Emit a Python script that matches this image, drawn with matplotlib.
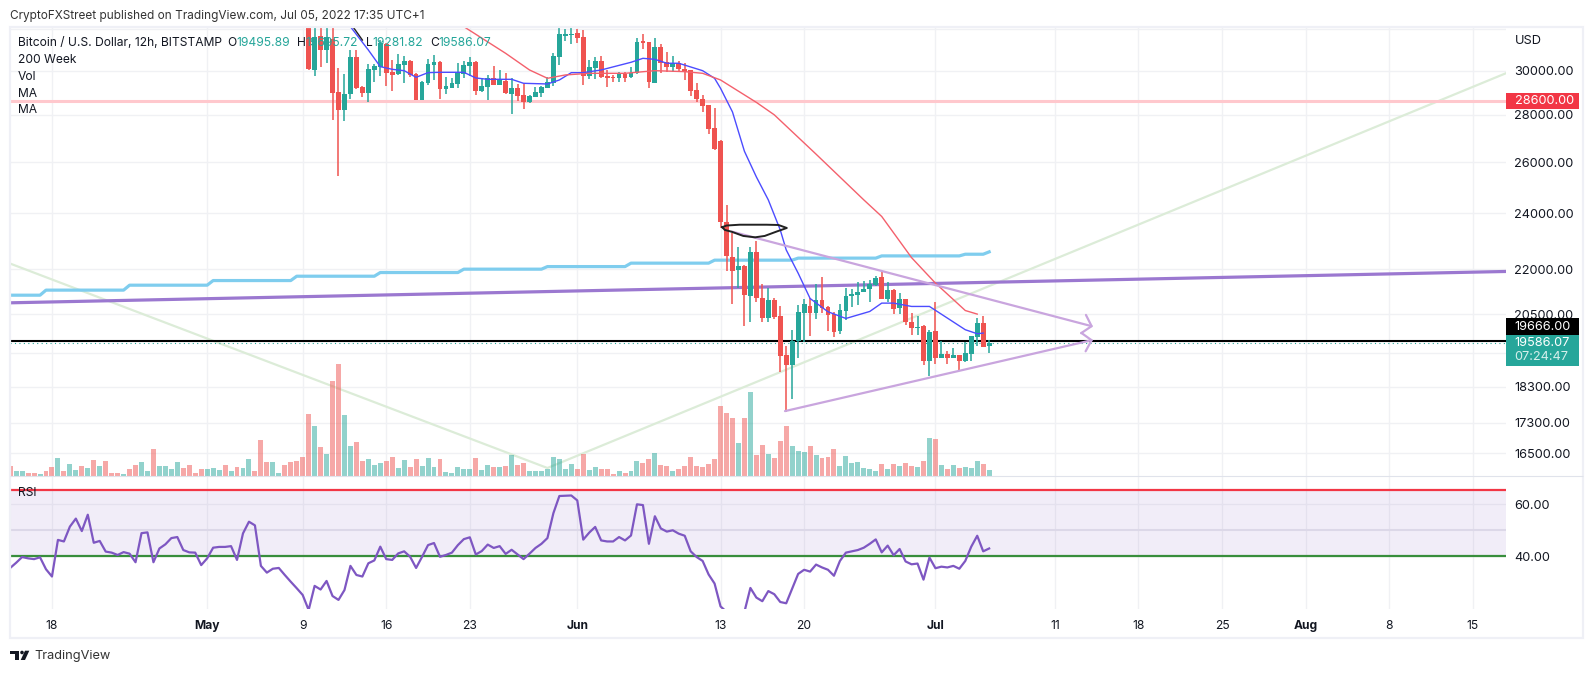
import matplotlib
matplotlib.use('Agg')
import matplotlib.pyplot as plt
from matplotlib.patches import Rectangle, Polygon, Circle

W, H = 1594, 673
plt.rcParams['font.family'] = ['Inter', 'DejaVu Sans']

UP = '#26a69a'
DOWN = '#ef5350'
GRID = '#f0f1f4'
TEXT = '#131722'
FS = 8.7
FS_SCALE = 9.2

# candles start at bar 50, earlier bars are above the visible range
first_candle = 50
opens = [32500, 30033, 31672, 30985, 31510, 29018, 28214, 28928, 30665, 29261,
         28988, 30033, 30190, 31280, 29955, 29846, 30270, 30460, 29846, 28658,
         29444, 30270, 30412, 29155, 29200, 29383, 29846, 30222, 30412, 29064,
         29245, 29660, 29337, 29536, 28928, 29200, 28883, 28568, 28793, 28973,
         29200, 29429, 30665, 31672, 31705, 31803, 31608, 29753, 30128, 30460,
         29753, 29722, 29660, 29846, 29691, 29877, 31430, 31380, 29444, 31130,
         30412, 30175, 30350, 30080, 30033, 29110, 28703, 28436, 27430, 26880,
         23681, 22425, 21974, 22112, 21100, 22612, 21035, 20388, 20969, 20452,
         19243, 18945, 19668, 20548, 20775, 20548, 20969, 20742, 20516, 19975,
         20612, 21100, 21133, 21233, 21332, 21466, 21734, 21000, 21300, 20710,
         21000, 20260, 20070, 20134, 19063, 19975, 19153, 19273, 19153, 19243,
         19063, 19273, 19790, 20228, 19495.89]
highs = [32700, 32400, 32300, 32300, 32100, 30112, 29846, 30985, 30985, 29300,
         30317, 30317, 31473, 31345, 30505, 30793, 30697, 30505, 29908, 29521,
         30537, 30745, 30460, 29722, 29645, 30350, 30475, 30633, 30444, 29645,
         29800, 30222, 30033, 29908, 29645, 29383, 29383, 28883, 29230, 29291,
         29691, 30857, 32136, 32000, 32136, 32000, 31950, 30505, 30665, 30697,
         30033, 29800, 29955, 29930, 30190, 31575, 31770, 31400, 31575, 31300,
         30890, 30697, 30475, 30350, 30050, 29414, 28883, 28450, 28300, 26900,
         24321, 23269, 22790, 22147, 22790, 23004, 21500, 21343, 21035, 20775,
         19495, 20010, 20810, 21000, 21023, 21500, 21734, 20775, 20580, 20839,
         21366, 21332, 21568, 21600, 21634, 21768, 21905, 21544, 21332, 21200,
         21000, 20548, 20430, 20166, 20010, 20904, 19668, 19364, 19455, 19243,
         19635, 19823, 20388, 20452, 19695.72]
lows = [30033, 29753, 30190, 30350, 27777, 25436, 27734, 28703, 29140, 28778,
        28583, 29475, 29753, 29291, 29064, 29784, 29444, 29691, 28640, 28640,
        29337, 29567, 28703, 28928, 29185, 29185, 29645, 29753, 28883, 29033,
        28658, 29337, 29337, 28928, 28039, 28628, 28258, 28540, 28778, 28778,
        29185, 29306, 30270, 31440, 31270, 31345, 29337, 29614, 29614, 29675,
        29261, 29475, 29475, 29475, 29645, 29860, 31020, 29200, 29414, 29877,
        29925, 29940, 30000, 29567, 28838, 28568, 28126, 27175, 26500, 23452,
        21940, 20839, 21355, 20113, 20260, 20882, 20239, 20240, 20345, 18737,
        17604, 17965, 19153, 19635, 19823, 20345, 20537, 19975, 19770, 19885,
        20324, 20742, 20806, 21233, 20904, 21410, 21000, 20904, 20516, 20516,
        20166, 19855, 19855, 18945, 18622, 18974, 19153, 18974, 19153, 18797,
        19033, 19063, 19515, 19485, 19281.82]
closes = [30064, 31640, 30985, 31640, 28988, 28214, 28928, 30665, 29185, 28988,
          30080, 30222, 31345, 29908, 29800, 30317, 30460, 29800, 28658, 29475,
          30317, 30412, 29155, 29291, 29414, 29908, 30270, 30412, 29064, 29291,
          29645, 29337, 29567, 28973, 29200, 28838, 28568, 28838, 29018, 29230,
          29475, 30697, 31770, 31770, 31770, 31575, 29753, 30175, 30460, 29706,
          29675, 29675, 29877, 29660, 29877, 31380, 31345, 29475, 31130, 30380,
          30175, 30350, 30080, 29955, 29064, 28703, 28390, 27390, 26545, 23697,
          22437, 21940, 22112, 21133, 22578, 21035, 20388, 20969, 20420, 19213,
          18945, 19668, 20580, 20839, 20548, 20969, 20710, 20484, 19945, 20645,
          21100, 21166, 21233, 21332, 21500, 21700, 21000, 21300, 20678, 21000,
          20260, 20070, 20100, 19063, 19945, 19153, 19273, 19153, 19243, 19063,
          19303, 19823, 20228, 19485, 19586.07]

# volume of every bar, first 50 bars need their own direction
volume = [30, 15, 15, 9, 9, 6, 15, 27, 54, 15, 36, 18, 30, 24, 48, 30, 45, 9, 9, 6,
          21, 33, 42, 15, 81, 30, 30, 21, 42, 24, 33, 9, 21, 21, 24, 18, 33, 15, 27, 24,
          51, 15, 108, 42, 42, 9, 33, 42, 45, 57, 186, 150, 87, 66, 285, 336, 183, 90, 102, 45,
          51, 33, 39, 45, 57, 24, 48, 27, 51, 30, 54, 27, 51, 12, 9, 27, 21, 21, 54, 18,
          33, 27, 27, 30, 63, 33, 39, 15, 15, 15, 21, 57, 51, 21, 36, 21, 66, 18, 27, 21,
          21, 6, 15, 9, 15, 45, 39, 51, 69, 33, 30, 15, 21, 30, 57, 30, 27, 36, 51, 210,
          189, 174, 99, 174, 252, 63, 93, 66, 54, 105, 150, 90, 75, 72, 90, 63, 54, 57, 81, 30,
          60, 39, 42, 24, 21, 15, 36, 21, 36, 30, 39, 30, 27, 45, 114, 111, 33, 21, 33, 24,
          27, 24, 45, 36, 18]
volume_up_early = [0, 1, 1, 0, 0, 1, 0, 0, 1, 0, 1, 1, 0, 1, 0, 1, 0, 0, 0, 1, 0, 0, 1, 1, 0,
                   1, 1, 1, 1, 0, 0, 0, 0, 1, 1, 1, 0, 1, 0, 1, 1, 0, 0, 0, 1, 1, 0, 0, 0, 0]

rsi = [35.4, 37.4, 39.6, 39.1, 38.8, 39.5, 34.9, 32.1, 46.2, 45.6, 51.3, 54.4, 49.6, 55.9, 45.1,
       45.8, 41.7, 41.3, 40.4, 41.5, 40.9, 37.6, 48.8, 49.1, 37.6, 42.9, 44.5, 46.9, 47.3, 42.3,
       41.4, 41.3, 36.5, 39.1, 43.2, 43.5, 43.5, 43.8, 38.5, 48.7, 53.2, 51.8, 36.2, 33.6, 35.1,
       35.4, 32.7, 30.1, 27.6, 25.0, 19.2, 28.5, 27.1, 30.4, 24.6, 23.1, 26.9, 36.2, 32.7, 32.1,
       37.2, 38.3, 43.6, 38.8, 38.5, 41.0, 41.8, 39.7, 35.4, 39.7, 44.2, 45.0, 39.7, 40.4, 41.3,
       44.2, 46.5, 47.2, 40.6, 41.9, 44.4, 43.1, 43.8, 40.8, 42.4, 40.6, 38.8, 40.9, 43.1, 44.7,
       46.9, 56.5, 63.1, 63.2, 63.3, 61.4, 46.3, 49.0, 51.2, 46.0, 45.6, 45.6, 47.3, 46.0, 47.9,
       59.9, 59.6, 44.7, 55.3, 50.6, 49.4, 49.9, 48.6, 47.8, 41.8, 39.6, 38.1, 32.9, 29.4, 20.6,
       18.5, 15.3, 15.3, 18.5, 27.7, 24.0, 22.6, 26.5, 25.3, 22.3, 21.8, 27.4, 33.1, 34.7, 34.0,
       36.7, 35.6, 34.7, 32.4, 38.1, 41.3, 41.8, 42.3, 43.2, 44.7, 46.4, 41.4, 44.0, 40.3, 42.7,
       37.9, 36.8, 37.1, 30.9, 39.4, 35.3, 35.9, 35.6, 36.2, 35.1, 38.1, 43.6, 47.8, 41.8, 42.9]

# moving averages, vertices read at bar positions
ma_blue_x = [57, 60, 62, 64, 66, 68, 70, 72, 76, 78, 80, 84, 86, 90, 92, 94, 96, 99, 104, 106,
             108, 110, 112, 116, 118, 119, 121, 123, 125, 127, 129, 130, 132, 134, 137, 140,
             144, 146, 148, 151, 154, 160, 162, 163]
ma_blue_y = [32136, 30985, 30190, 30064, 30000, 29691, 29908, 29924, 29924, 29660, 29598, 29598,
             29414, 29383, 29567, 29908, 29908, 30033, 30396, 30585, 30537, 30350, 30350, 30000,
             29645, 29185, 28125, 26450, 25410, 24513, 23390, 22670, 21860, 21012, 20580, 20366,
             20590, 20860, 20860, 20752, 20752, 20010, 19885, 19905]
ma_red_x = [76, 83, 87, 90, 93, 97, 103, 108, 113, 116, 119, 125, 128, 135, 143, 146, 151, 155, 160, 162]
ma_red_y = [32136, 30825, 30033, 29645, 29800, 29877, 29877, 30000, 29955, 29877, 29567, 28550,
            28000, 26330, 24513, 23886, 22397, 21522, 20620, 20505]
ma_black_x = [57.5, 59]
ma_black_y = [32100, 31473]

# 200 week line
week200_x = [0, 5, 6, 19, 20, 33, 34, 47, 48, 61, 62, 75, 76, 89, 90, 103, 104, 117, 118,
             131, 132, 145, 146, 159, 160, 163, 164]
week200_y = [21120, 21120, 21288, 21288, 21453, 21453, 21609, 21609, 21756, 21756, 21882, 21882,
             21997, 21997, 22086, 22086, 22205, 22205, 22309, 22309, 22380, 22380, 22458, 22458,
             22517, 22517, 22600]

# drawn lines
green_x = [0, 90, 251]
green_y = [22190, 16120, 29930]
purple_x = [0, 251]
purple_y = [20870, 21920]
upper_x = [120.9, 181.4]
upper_y = [23327, 20110]
lower_x = [129.8, 181.4]
lower_y = [17620, 19695]
scribble_x = [119.3, 120, 122.2, 126.7, 128.7, 130.1, 128.4, 126.4, 124.8, 122.8, 120.9, 119.7, 119.3]
scribble_y = [23490, 23550, 23580, 23580, 23570, 23460, 23330, 23170, 23120, 23170, 23320, 23390, 23490]

level_pink = 28600
level_black = 19666
last_close = 19586.07

price_ticks = [32000, 30000, 28000, 26000, 24000, 22000, 20500, 19300, 18300, 17300, 16500]
price_labels = ['', '30000.00', '28000.00', '26000.00', '24000.00', '22000.00', '20500.00', '',
                '18300.00', '17300.00', '16500.00']
time_ticks = [7, 33, 49, 63, 77, 95, 119, 133, 155, 175, 189, 203, 217, 231, 245]
time_labels = ['18', 'May', '9', '16', '23', 'Jun', '13', '20', 'Jul', '11', '18', '25', 'Aug', '8', '15']
rsi_top, rsi_mid, rsi_low = 65.4, 50, 40


def axes_px(left, top, right, bottom):
    return [left / W, 1 - bottom / H, (right - left) / W, (bottom - top) / H]


def label(x, y, s, **kw):
    kw.setdefault('color', TEXT)
    kw.setdefault('fontsize', FS)
    kw.setdefault('va', 'center')
    fig.text(x / W, 1 - y / H, s, zorder=20, **kw)


def box(x, y, w, h, **kw):
    fig.add_artist(Rectangle((x / W, 1 - (y + h) / H), w / W, h / H, transform=fig.transFigure,
                             zorder=15, **kw))


fig = plt.figure(figsize=(W / 100, H / 100), dpi=100)
xlim = (-0.03, 250.58)

# price pane
ax = fig.add_axes(axes_px(10, 27, 1506, 476))
ax.set_zorder(1)
ax.set_yscale('log')
ax.set_xlim(*xlim)
ax.set_ylim(15920, 32120)
ax.minorticks_off()
ax.set_yticks(price_ticks)
ax.set_yticklabels(price_labels, fontsize=FS_SCALE, color=TEXT)
ax.yaxis.tick_right()
ax.set_xticks(time_ticks)
ax.set_xticklabels([])
ax.tick_params(length=0, pad=6)
ax.tick_params(axis='y', which='minor', length=0, labelright=False)
ax.grid(True, color=GRID, lw=1)
ax.set_axisbelow(True)
for s in ax.spines.values():
    s.set_visible(False)

ax.plot(green_x, green_y, color='#dcecd8', lw=1.6, zorder=2)
ax.plot(week200_x, week200_y, color='#7fcdee', lw=2.3, zorder=2.5, solid_joinstyle='round')
ax.plot(purple_x, purple_y, color='#9b78d0', lw=2.3, zorder=2.6)
ax.axhline(level_pink, color='#ffc8cd', lw=2.2, zorder=2.7)
ax.axhline(last_close, color=UP, lw=0.8, ls=(0, (1, 3)), zorder=2.75)
ax.axhline(level_black, color='black', lw=1.5, zorder=2.8)

# candles
for n, (o, h, l, c) in enumerate(zip(opens, highs, lows, closes)):
    i = first_candle + n
    col = UP if c >= o else DOWN
    ax.vlines(i, l, h, color=col, lw=1.1, zorder=3)
    ax.bar(i, abs(c - o), bottom=min(o, c), width=0.8, color=col, zorder=3.1)

ax.plot(ma_blue_x, ma_blue_y, color='#4c4cff', lw=1.0, zorder=4)
ax.plot(ma_red_x, ma_red_y, color='#f4606c', lw=1.0, zorder=4)
ax.plot(ma_black_x, ma_black_y, color='#222222', lw=1.0, zorder=4)
ax.plot(scribble_x, scribble_y, color='#222222', lw=1.4, zorder=5)

tri_col = '#c9a5de'
for xs, ys in [(upper_x, upper_y), (lower_x, lower_y)]:
    ax.annotate('', xy=(xs[1], ys[1]), xytext=(xs[0], ys[0]), zorder=4.5,
                arrowprops=dict(arrowstyle='->,head_length=0.6,head_width=0.68', color=tri_col,
                                lw=1.6, mutation_scale=10, shrinkA=0, shrinkB=0))

# volume sits in the same pane
axv = fig.add_axes(axes_px(10, 27, 1506, 476), sharex=ax)
axv.set_zorder(2)
axv.patch.set_visible(False)
axv.set_ylim(0, 1347)
axv.axis('off')
vol_colors = []
for i, v in enumerate(volume):
    if i < first_candle:
        up = volume_up_early[i]
    else:
        up = closes[i - first_candle] >= opens[i - first_candle]
    vol_colors.append(UP if up else DOWN)
axv.bar(range(len(volume)), volume, width=0.83, color=vol_colors, alpha=0.5)
axv.set_xlim(*xlim)

# rsi pane
ar = fig.add_axes(axes_px(10, 476, 1506, 609))
ar.set_xlim(*xlim)
ar.set_ylim(19.6, 70.8)
ar.set_xticks(time_ticks)
ar.set_xticklabels(time_labels, fontsize=FS, color=TEXT)
for t, s in zip(ar.get_xticklabels(), time_labels):
    if s in ('May', 'Jun', 'Jul', 'Aug'):
        t.set_fontweight('bold')
ar.set_yticks([60, 40])
ar.set_yticklabels(['60.00', '40.00'], fontsize=FS_SCALE, color=TEXT)
ar.yaxis.tick_right()
ar.tick_params(length=0)
ar.tick_params(axis='x', pad=8)
ar.tick_params(axis='y', pad=6)
ar.grid(True, color=GRID, lw=1)
ar.set_axisbelow(True)
for s in ar.spines.values():
    s.set_visible(False)
ar.axhspan(rsi_low, rsi_top, color='#7e57c2', alpha=0.1, lw=0, zorder=1)
ar.axhline(rsi_mid, color='#dcd8e8', lw=1.5, zorder=1.5)
ar.axhline(rsi_top, color='#f23645', lw=1.6, zorder=2)
ar.axhline(rsi_low, color='#388e3c', lw=1.6, zorder=2)
ar.plot(range(len(rsi)), rsi, color='#7e57c2', lw=1.6, zorder=3)

# frame and pane separator
box(10, 27, 1573, 611, fill=False, edgecolor='#eff0f6', lw=1.6)
box(10, 476, 1573, 0.01, fill=False, edgecolor='#e0e3eb', lw=0.8)

# right scale boxes
box(1506, 93, 73, 16, facecolor='#f23645', lw=0)
box(1506, 318, 73, 17, facecolor='black', lw=0)
box(1506, 335, 73, 31, facecolor=UP, lw=0)
label(1514.5, 101, '28600.00', color='#ffffff', fontsize=FS_SCALE)
label(1514.5, 327, '19666.00', color='#ffffff', fontsize=FS_SCALE)
label(1514.5, 343.5, '19586.07', color='#ffffff', fontsize=FS_SCALE)
label(1514.5, 357.5, '07:24:47', color='#d5efec', fontsize=FS_SCALE)
label(1514.5, 40.5, 'USD', fontsize=FS_SCALE)

# header text
label(10, 16, 'CryptoFXStreet published on TradingView.com, Jul 05, 2022 17:35 UTC+1', color='#333333', fontsize=8.5)
label(18, 43, 'Bitcoin / U.S. Dollar, 12h, BITSTAMP')
for x, s in [(227, 'O'), (297, 'H'), (366, 'L'), (430, 'C')]:
    label(x, 43, s)
for x, s in [(236, '19495.89'), (305, '19695.72'), (372, '19281.82'), (438, '19586.07')]:
    label(x, 43, s, color=UP)
for y, s in [(60, '200 Week'), (77, 'Vol'), (94, 'MA'), (110, 'MA'), (493, 'RSI')]:
    label(18, y, s)

# TradingView logo
logo_col = '#131722'
def px(x, y):
    return (x / W, 1 - y / H)
for pts in [[(10.3, 650.7), (19, 650.7), (19, 660), (15, 660), (15, 654), (10.3, 654)],
            [(25, 650.7), (29.3, 650.7), (25, 660), (20.7, 660)]]:
    fig.add_artist(Polygon([px(*p) for p in pts], transform=fig.transFigure, color=logo_col, lw=0, zorder=15))
fig.add_artist(Circle((22, H - 652.5), 1.8, transform=None, color=logo_col, lw=0, zorder=15))
label(34, 656.5, 'TradingView', color='#333333', fontsize=9.2)

fig.savefig('out.png', dpi=100)
